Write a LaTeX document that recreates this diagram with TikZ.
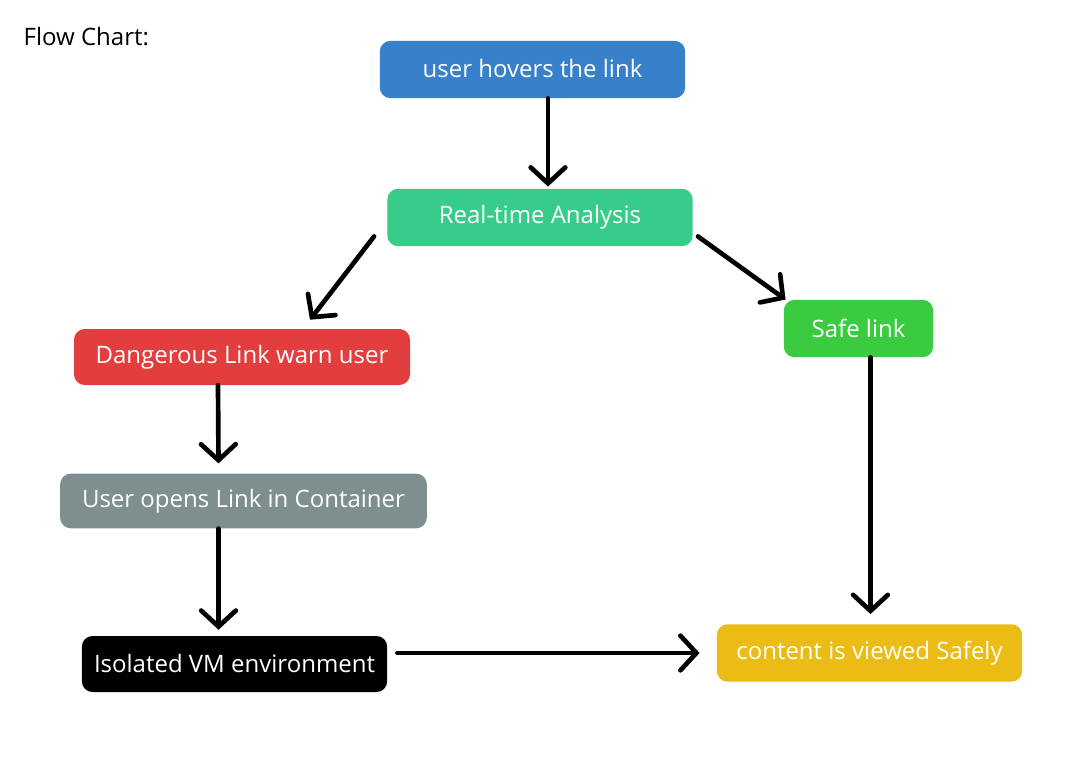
\documentclass[tikz,border=0pt]{standalone}
\usepackage{fontspec}
\setmainfont{Open Sans}
\usetikzlibrary{positioning,calc,arrows.meta}
\definecolor{hoverblue}{HTML}{3781CA}
\definecolor{scangreen}{HTML}{38CC8A}
\definecolor{dangerred}{HTML}{E33E3E}
\definecolor{boxgray}{HTML}{7E8F8F}
\definecolor{safegreen}{HTML}{3BCB41}
\definecolor{viewyellow}{HTML}{EBBC16}
\begin{document}
\begin{tikzpicture}[x=0.75pt,y=-0.75pt,link/.style={draw,-{Straight Barb[length=12pt,width=26pt,line cap=round]},line width=3.5pt,line cap=round},box/.style={rounded corners=8pt,text=white,font=\fontsize{18}{21}\selectfont,inner sep=0pt}]
  \useasboundingbox (0,0) rectangle (1067,759);
  \node (t) [anchor=west,font=\fontsize{18}{21}\selectfont] at (19,37) {Flow Chart:};
  \node (u) [box,fill=hoverblue,minimum width=229pt,minimum height=43pt] at (532.5,69.5) {\raisebox{2pt}{user hovers the link}};
  \node (a) [box,fill=scangreen,minimum width=229pt,minimum height=43pt] at (540,217.5) {Real-time Analysis};
  \node (d) [box,fill=dangerred,minimum width=252pt,minimum height=42pt] at (242,357) {Dangerous Link warn user};
  \node (g) [box,fill=boxgray,minimum width=275pt,minimum height=41pt] at (243.5,501) {User opens Link in Container};
  \node (v) [box,fill=black,minimum width=229pt,minimum height=42pt] at (234.5,664) {\raisebox{1pt}{Isolated VM environment}};
  \node (s) [box,fill=safegreen,minimum width=112pt,minimum height=43pt] at (858.5,328.5) {\raisebox{1pt}{Safe link}};
  \node (c) [box,fill=viewyellow,minimum width=229pt,minimum height=43pt] at (869.5,653) {content is viewed Safely};
  \draw[link] ($(u.south)+(15.5,0)$) -- ($(a.north)+(8,-2)$);
  \draw[link] ($(a.south west)+(-13,-10)$) -- ($(d.north)+(68,-9)$);
  \draw[link] ($(a.south east)+(5,-10)$) -- ($(s.north west)+(2,0)$);
  \draw[link] ($(d.south)+(-24,0)$) -- ($(g.north)+(-25,-10)$);
  \draw[link] ($(g.south)+(-25,0)$) -- ($(v.north)+(-16,-6)$);
  \draw[link] ($(s.south)+(12,0)$) -- ($(c.north)+(1,-10)$);
  \draw[link] ($(v.east)+(10,-11)$) -- ($(c.west)+(-17,0)$);
\end{tikzpicture}
\end{document}
